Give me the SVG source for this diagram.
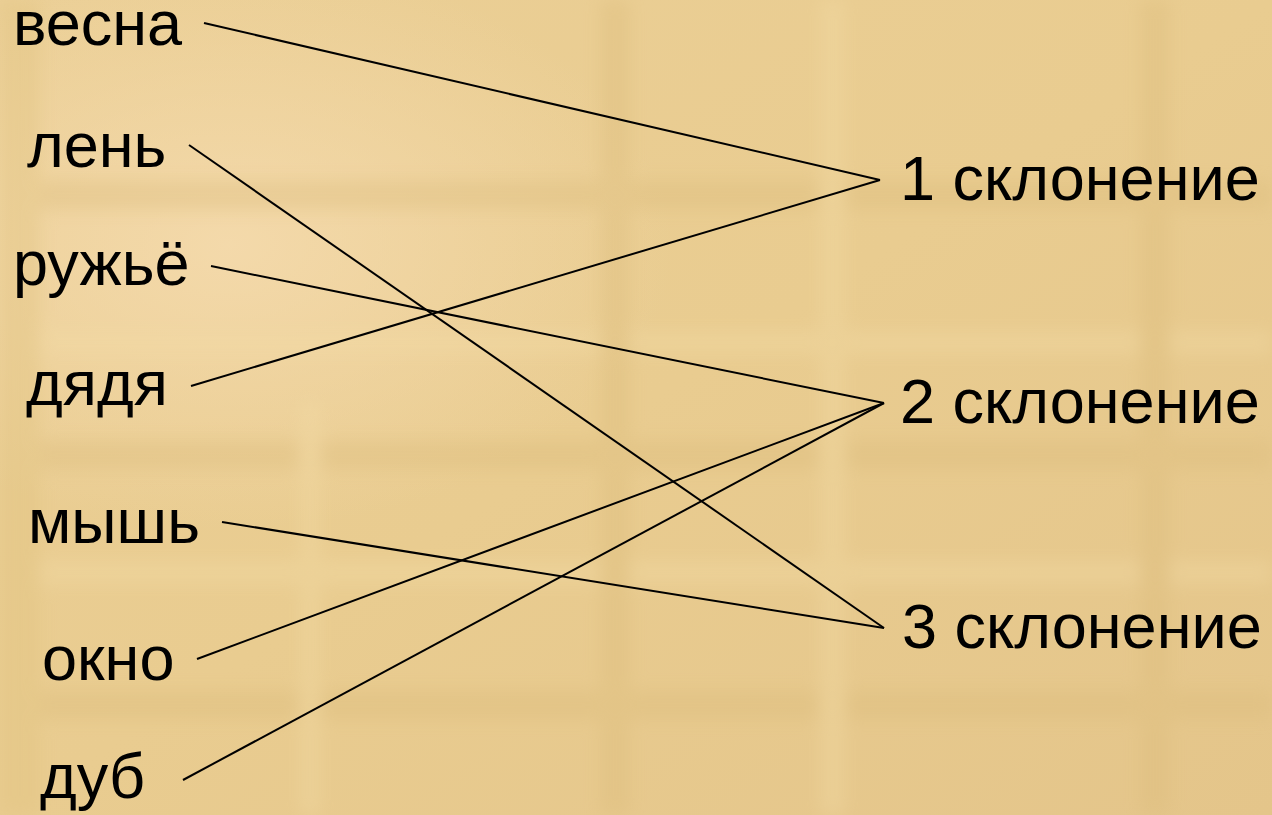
<svg xmlns="http://www.w3.org/2000/svg" width="1272" height="815" viewBox="0 0 1272 815">
<defs>
<linearGradient id="bg" x1="0" y1="0" x2="1" y2="1">
<stop offset="0" stop-color="#ebcf96"/>
<stop offset="0.5" stop-color="#e9cc90"/>
<stop offset="1" stop-color="#e4c58a"/>
</linearGradient>
<radialGradient id="glow" cx="0.18" cy="0.3" r="0.35">
<stop offset="0" stop-color="#f6dcb0" stop-opacity="0.8"/>
<stop offset="1" stop-color="#f6dcb0" stop-opacity="0"/>
</radialGradient>
<filter id="blur" x="-10%" y="-10%" width="120%" height="120%"><feGaussianBlur stdDeviation="8"/></filter>
<style>
.w{font-family:"Liberation Sans",Arial,sans-serif;font-size:63px;fill:#000}
.c{stroke:#000;stroke-width:2;fill:none}
</style>
</defs>
<rect width="1272" height="815" fill="url(#bg)"/>
<rect width="1272" height="815" fill="url(#glow)"/>
<g filter="url(#blur)" opacity="0.35">
<rect x="0" y="180" width="1272" height="30" fill="#dcbc7c"/>
<rect x="0" y="330" width="1272" height="25" fill="#f3dba5"/>
<rect x="0" y="440" width="1272" height="30" fill="#dcbc7c"/>
<rect x="0" y="560" width="1272" height="25" fill="#f3dba5"/>
<rect x="0" y="690" width="1272" height="30" fill="#dcbc7c"/>
<rect x="600" y="0" width="30" height="815" fill="#dcbc7c"/>
<rect x="820" y="0" width="25" height="815" fill="#f3dba5"/>
<rect x="1140" y="0" width="30" height="815" fill="#dcbc7c"/>
<rect x="300" y="400" width="20" height="415" fill="#f3dba5"/>
<rect x="0" y="0" width="40" height="815" fill="#e0c27f"/>
</g>
<g id="connectors">
<line class="c" x1="204" y1="23" x2="880" y2="180"/>
<line class="c" x1="189" y1="145" x2="884" y2="628"/>
<line class="c" x1="211" y1="266" x2="884" y2="403"/>
<line class="c" x1="191" y1="386" x2="880" y2="180"/>
<line class="c" x1="222" y1="522" x2="884" y2="628"/>
<line class="c" x1="197" y1="659" x2="884" y2="403"/>
<line class="c" x1="183" y1="780" x2="884" y2="403"/>
</g>
<g id="n-vesna"><text class="w" x="13" y="45">весна</text></g>
<g id="n-len"><text class="w" x="27" y="167">лень</text></g>
<g id="n-ruzhyo"><text class="w" x="13" y="285">ружьё</text></g>
<g id="n-dyadya"><text class="w" x="26" y="405">дядя</text></g>
<g id="n-mysh"><text class="w" x="28" y="543">мышь</text></g>
<g id="n-okno"><text class="w" x="42" y="680">окно</text></g>
<g id="n-dub"><text class="w" x="40" y="798">дуб</text></g>
<g id="n-1"><text class="w" x="900" y="200">1 склонение</text></g>
<g id="n-2"><text class="w" x="900" y="423">2 склонение</text></g>
<g id="n-3"><text class="w" x="902" y="648">3 склонение</text></g>
</svg>
